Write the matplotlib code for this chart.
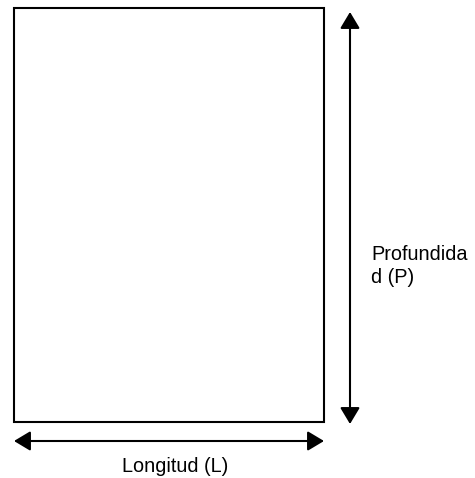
# diagram of a rectangle with its length and depth marked

import matplotlib.pyplot as plt
from matplotlib.patches import Rectangle

# box in pixel units (left, top, right, bottom)
box = [13.5, 7.5, 323.5, 421.5]
# depth arrow: x, top tip, bottom tip
depth_arrow = [350, 12, 424]
# length arrow: y, left tip, right tip
length_arrow = [441, 14, 324]

labels = ["Profundida\nd (P)", "Longitud (L)"]

fig = plt.figure(figsize=(4.75, 4.78), dpi=100)
ax = fig.add_axes([0, 0, 1, 1])
ax.set_xlim(0, 475)
ax.set_ylim(478, 0)
ax.axis('off')

ax.add_patch(Rectangle((box[0], box[1]), box[2] - box[0], box[3] - box[1],
                       fill=False, lw=1.5, ec='black'))

arrow = dict(arrowstyle='<|-|>,head_length=1.0,head_width=0.6', lw=1.5,
             color='black', shrinkA=0, shrinkB=0, mutation_scale=10)
ax.annotate('', xy=(depth_arrow[0], depth_arrow[1]),
            xytext=(depth_arrow[0], depth_arrow[2]), arrowprops=arrow)
ax.annotate('', xy=(length_arrow[1], length_arrow[0]),
            xytext=(length_arrow[2], length_arrow[0]), arrowprops=arrow)

ax.text(371, 266, labels[0], family='Liberation Sans', fontsize=14.3,
        ha='left', va='center', linespacing=1.25)
ax.text(175, 467, labels[1], family='Liberation Sans', fontsize=14.3,
        ha='center', va='center')

plt.savefig("out.png", dpi=100)
